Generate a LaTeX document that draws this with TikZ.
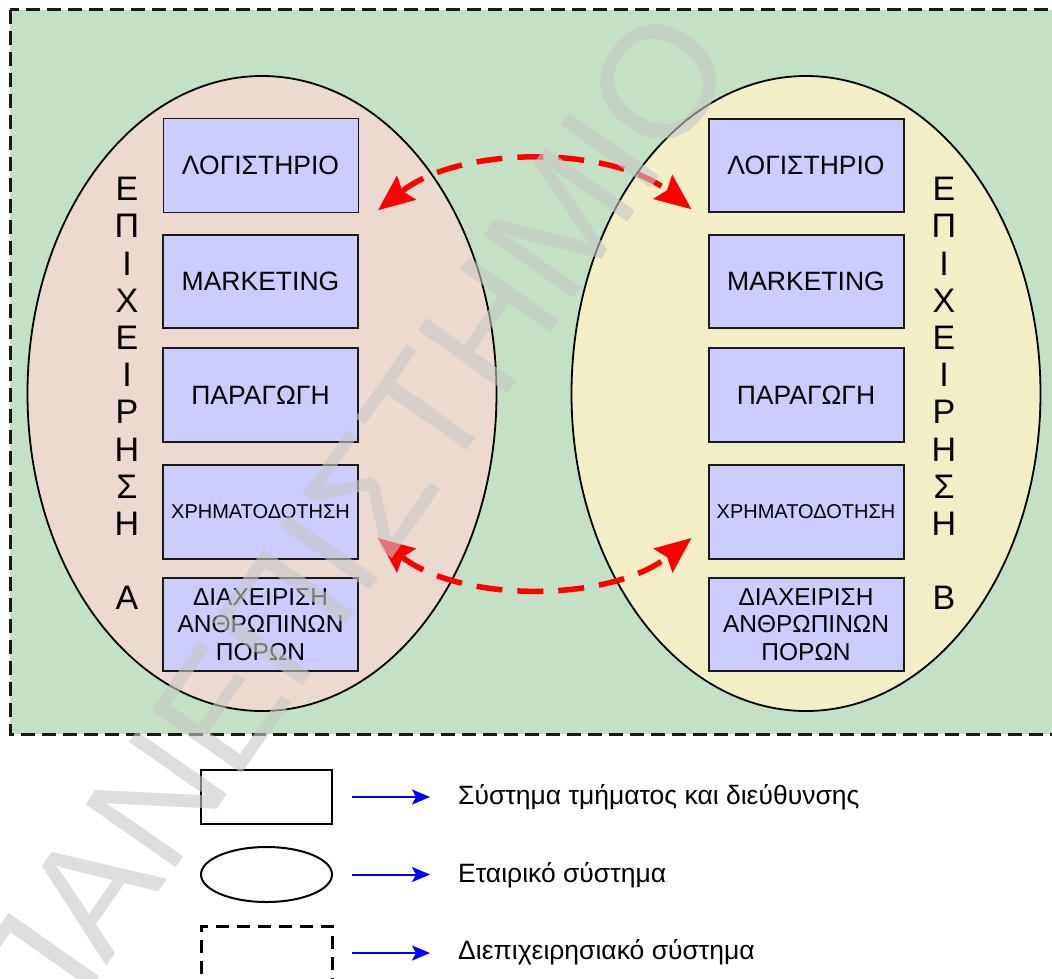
\documentclass[tikz,border=0pt]{standalone}
\usepackage{fontspec}
\setmainfont{Liberation Sans}
\usetikzlibrary{arrows.meta,shapes.geometric}

\definecolor{bggreen}{RGB}{196,224,197}
\definecolor{firmpink}{RGB}{236,218,208}
\definecolor{firmyellow}{RGB}{242,239,199}
\definecolor{deptblue}{RGB}{204,204,255}
\definecolor{markgray}{RGB}{200,200,200}

\tikzset{
  interfirm/.style={draw=black!90, line width=3pt, dash pattern=on 14pt off 7pt, fill=bggreen},
  firm/.style={ellipse, draw=black, line width=1.8pt, inner sep=0pt, outer sep=0pt,
    minimum width=469pt, minimum height=635pt},
  dept/.style={rectangle, draw=black!90, line width=2pt, fill=deptblue, inner sep=0pt, outer sep=0pt,
    minimum width=195pt, minimum height=93.5pt, align=center,
    font=\fontsize{26.5}{30}\selectfont},
  firmlabel/.style={inner sep=0pt, font=\fontsize{34}{36}\selectfont},
  link/.style={draw=red, line width=5.5pt, dash pattern=on 26pt off 15pt,
    {Stealth[length=36pt,width=30pt,inset=5pt]}-{Stealth[length=36pt,width=30pt,inset=5pt]}},
  legshape/.style={draw=black, line width=2pt, inner sep=0pt, outer sep=0pt,
    minimum width=131pt, minimum height=54pt},
  legtext/.style={anchor=base west, inner sep=0pt, font=\fontsize{26.5}{30}\selectfont},
  legarrow/.style={draw=blue, line width=2pt, -{Stealth[length=18pt,width=15pt,inset=4pt]}},
  stamp/.style={rotate=55, inner sep=0pt, text=markgray, text opacity=0.6,
    font=\fontsize{160}{160}\selectfont}
}

\begin{document}
\begin{tikzpicture}[x=1pt,y=-1pt]
\clip (0,0) rectangle (1052,978);
\fill[white] (0,0) rectangle (1052,978);

% inter-firm system
\draw[interfirm] (10,9.5) rectangle (1075,734);

% the two firms
\node[firm, fill=firmpink] (firmA) at (262,393.5) {};
\node[firm, fill=firmyellow] (firmB) at (806,393.5) {};

% departments of firm A
\node[dept, line width=1pt] (lA) at (260.5,165.5) {ΛΟΓΙΣΤΗΡΙΟ};
\node[dept] (lB) at (260.5,281.5) {MARKETING};
\node[dept] (lC) at (260.5,395) {ΠΑΡΑΓΩΓΗ};
\node[dept, font=\fontsize{20}{24}\selectfont] (lD) at (260.5,512) {ΧΡΗΜΑΤΟΔΟΤΗΣΗ};
\node[dept, font=\fontsize{24.5}{27.7}\selectfont] (lE) at (260.5,624.5) {ΔΙΑΧΕΙΡΙΣΗ\\ΑΝΘΡΩΠΙΝΩΝ\\ΠΟΡΩΝ};

% departments of firm B
\node[dept] (rA) at (806,165.5) {ΛΟΓΙΣΤΗΡΙΟ};
\node[dept] (rB) at (806,281.5) {MARKETING};
\node[dept] (rC) at (806,395) {ΠΑΡΑΓΩΓΗ};
\node[dept, font=\fontsize{20}{24}\selectfont] (rD) at (806,512) {ΧΡΗΜΑΤΟΔΟΤΗΣΗ};
\node[dept, font=\fontsize{24.5}{27.7}\selectfont] (rE) at (806,624.5) {ΔΙΑΧΕΙΡΙΣΗ\\ΑΝΘΡΩΠΙΝΩΝ\\ΠΟΡΩΝ};

% vertical firm names
\foreach \ch [count=\i from 0] in {Ε,Π,Ι,Χ,Ε,Ι,Ρ,Η,Σ,Η} {
  \node[firmlabel] (nameA\i) at (127,189+37.2*\i) {\ch};
  \node[firmlabel] (nameB\i) at (944,189+37.2*\i) {\ch};
}
\node[firmlabel] (tagA) at (127,598) {Α};
\node[firmlabel] (tagB) at (944,598) {Β};

% links between the firms
\draw[link] ([xshift=20pt,yshift=2pt]lA.south east)
  .. controls +(82,-65) and +(-82,-64) .. ([xshift=-17pt,yshift=3pt]rA.south west);
\draw[link] ([xshift=20pt,yshift=-26pt]lD.east)
  .. controls +(82,65) and +(-82,65) .. ([xshift=-17pt,yshift=-26pt]rD.west);

% legend
\node[legshape] (lgRect) at (266.5,797) {};
\node[legshape, ellipse, minimum height=55pt] (lgEll) at (266.5,874.5) {};
\node[legshape, line width=3pt, dash pattern=on 13pt off 8pt, minimum height=60pt] (lgDash) at (266.5,956) {};

\node[legtext] (lgT1) at (458,804) {Σύστημα τμήματος και διεύθυνσης};
\node[legtext] (lgT2) at (458,882) {Εταιρικό σύστημα};
\node[legtext] (lgT3) at (458,959) {Διεπιχειρησιακό σύστημα};

\draw[legarrow] ([xshift=20pt]lgRect.east) -- ([xshift=-28pt]lgRect.east -| lgT1.west);
\draw[legarrow] ([xshift=20pt]lgEll.east) -- ([xshift=-28pt]lgEll.east -| lgT2.west);
\draw[legarrow] ([xshift=20pt,yshift=3pt]lgDash.east) -- ([xshift=-28pt,yshift=3pt]lgDash.east -| lgT3.west);

% stamp across the sheet
\node[stamp] (stampText) at (345,530) {ΠΑΝΕΠΙΣΤΗΜΙΟ};
\end{tikzpicture}
\end{document}
